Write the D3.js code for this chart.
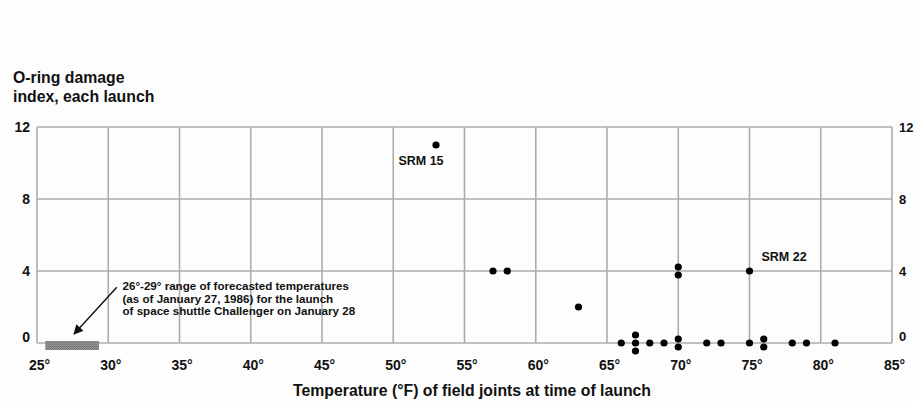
<!DOCTYPE html>
<html>
<head>
<meta charset="utf-8">
<script src="https://cdn.jsdelivr.net/npm/d3@7/dist/d3.min.js"></script>
<style>
  html, body { margin: 0; padding: 0; background: #fdfdfd; }
  svg { display: block; font-family: "Liberation Sans", Arial, Helvetica, sans-serif; font-weight: bold; }
</style>
</head>
<body>
<svg id="chart" width="914" height="401"></svg>
<script>
// ---- data ----
const temperatures = [53, 57, 58, 63, 70, 70, 75, 66, 67, 67, 67, 68, 69, 70, 70, 72, 73, 75, 76, 76, 78, 79, 81];
const damageIndex  = [11, 4, 4, 2, 4, 4, 4, 0, 0, 0, 0, 0, 0, 0, 0, 0, 0, 0, 0, 0, 0, 0, 0];
const xTickValues = [25, 30, 35, 40, 45, 50, 55, 60, 65, 70, 75, 80, 85];
const yTickValues = [0, 4, 8, 12];
const srmTemps = [53, 75];
const srmDamage = [11, 4];
const srmNames = ["SRM 15", "SRM 22"];
const forecastRange = [26, 29];
const annotationLines = [
  "26\u00b0-29\u00b0 range of forecasted temperatures",
  "(as of January 27, 1986) for the launch",
  "of space shuttle Challenger on January 28"
];
const yTitleLines = ["O-ring damage", "index, each launch"];
const xTitle = "Temperature (\u00b0F) of field joints at time of launch";

(function () {
// ---- layout ----
const svg = d3.select("#chart");
const pLeft = 37, pRight = 892, pTop = 127, pBottom = 343;
const x = d3.scaleLinear().domain([25, 85]).range([pLeft, pRight]);
const y = d3.scaleLinear().domain([0, 12]).range([pBottom, pTop]);
const gridColor = "#acacac";

// grid
const g = svg.append("g");
g.selectAll("line.v").data(xTickValues).join("line")
  .attr("x1", d => x(d)).attr("x2", d => x(d))
  .attr("y1", pTop).attr("y2", pBottom)
  .attr("stroke", gridColor).attr("stroke-width", 1.6);
g.selectAll("line.h").data(yTickValues).join("line")
  .attr("x1", pLeft).attr("x2", pRight)
  .attr("y1", d => y(d)).attr("y2", d => y(d))
  .attr("stroke", gridColor).attr("stroke-width", 1.6);

// axes (labels only) via d3 axes
const yAxisL = d3.axisLeft(y).tickValues(yTickValues).tickSize(0).tickPadding(7);
const yAxisR = d3.axisRight(y).tickValues(yTickValues).tickSize(0).tickPadding(7);
const xAxis = d3.axisBottom(x).tickValues(xTickValues).tickSize(0).tickPadding(17).tickFormat(d => d + "\u00b0");

function styleAxis(sel, size) {
  sel.select(".domain").remove();
  sel.selectAll("text").attr("fill", "#111").style("font-size", size).style("font-weight", "bold")
    .style("font-family", "'Liberation Sans', Arial, sans-serif");
}
svg.append("g").attr("transform", `translate(${pLeft},0)`).call(yAxisL).call(styleAxis, "14px")
  .selectAll(".tick text").attr("dy", d => d === 0 ? "-0.1em" : "0.32em");
svg.append("g").attr("transform", `translate(${pRight},0)`).call(yAxisR).call(styleAxis, "13px")
  .selectAll(".tick text").attr("dy", d => d === 0 ? "-0.2em" : "0.32em");
svg.append("g").attr("transform", `translate(0,${pBottom})`).call(xAxis).call(styleAxis, "14px")
  .selectAll(".tick text").attr("dx", "2px");

// forecast range bar
const defs = svg.append("defs");
const pat = defs.append("pattern").attr("id", "hatch").attr("width", 2).attr("height", 2)
  .attr("patternUnits", "userSpaceOnUse");
pat.append("rect").attr("width", 2).attr("height", 2).attr("fill", "#9a9a9a");
pat.append("rect").attr("width", 1).attr("height", 1).attr("fill", "#6e6e6e");
pat.append("rect").attr("x", 1).attr("y", 1).attr("width", 1).attr("height", 1).attr("fill", "#7a7a7a");
svg.append("rect")
  .attr("x", x(forecastRange[0]) - 6)
  .attr("width", x(forecastRange[1]) - x(forecastRange[0]) + 11)
  .attr("y", y(0) - 2).attr("height", 9)
  .attr("fill", "url(#hatch)");

// points with vertical stacking of coincident values
const pts = temperatures.map((t, i) => ({ t, d: damageIndex[i] }));
const groups = d3.group(pts, p => p.t + "|" + p.d);
groups.forEach(arr => arr.forEach((p, i) => { p.off = (i - (arr.length - 1) / 2) * 8; }));
svg.append("g").selectAll("circle").data(pts).join("circle")
  .attr("cx", p => x(p.t))
  .attr("cy", p => y(p.d) + p.off)
  .attr("r", 3.6)
  .attr("fill", "#000");

// SRM labels
svg.append("text").attr("x", x(srmTemps[0]) - 15).attr("y", y(srmDamage[0]) + 20)
  .attr("text-anchor", "middle").style("font-size", "12.5px").attr("fill", "#111").text(srmNames[0]);
svg.append("text").attr("x", x(srmTemps[1]) + 12).attr("y", y(srmDamage[1]) - 10)
  .attr("text-anchor", "start").style("font-size", "12.5px").attr("fill", "#111").text(srmNames[1]);

// annotation
const ann = svg.append("text").attr("x", x(31.0)).attr("y", y(2.95)).style("font-size", "11.6px").attr("fill", "#111");
annotationLines.forEach((l, i) => ann.append("tspan").attr("x", x(31.0)).attr("dy", i === 0 ? 0 : 12.6).text(l));

// arrow
defs.append("marker").attr("id", "arrow").attr("viewBox", "0 0 10 10").attr("refX", 9).attr("refY", 5)
  .attr("markerWidth", 7).attr("markerHeight", 7).attr("orient", "auto")
  .append("path").attr("d", "M0,0 L10,5 L0,10 Z").attr("fill", "#111");
svg.append("line")
  .attr("x1", x(30.6)).attr("y1", y(3.1))
  .attr("x2", x(27.6)).attr("y2", y(0.5))
  .attr("stroke", "#111").attr("stroke-width", 1.4)
  .attr("marker-end", "url(#arrow)");

// y title
const yt = svg.append("text").attr("x", 13).attr("y", 83).style("font-size", "15.8px").attr("fill", "#111");
yTitleLines.forEach((l, i) => yt.append("tspan").attr("x", 13).attr("dy", i === 0 ? 0 : 19).text(l));

// x title
svg.append("text").attr("x", 472).attr("y", 396).attr("text-anchor", "middle")
  .style("font-size", "15.8px").attr("fill", "#111").text(xTitle);
})();
</script>
</body>
</html>
